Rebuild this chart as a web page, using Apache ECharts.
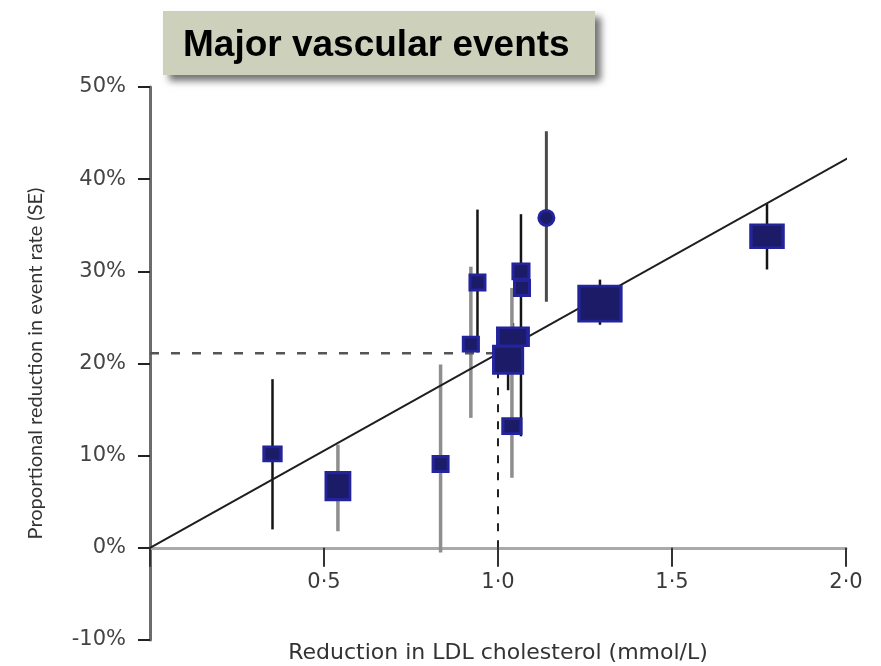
<!DOCTYPE html>
<html>
<head>
<meta charset="utf-8">
<title>Major vascular events</title>
<script src="https://cdn.jsdelivr.net/npm/echarts@6/dist/echarts.min.js"></script>
<style>
html,body{margin:0;padding:0;background:#fff;}
#main{width:881px;height:666px;}
</style>
</head>
<body>
<div id="main"></div>
<script>
// reduction in LDL cholesterol (mmol/L), one per trial
var ldlX    = [0.352, 0.540, 0.835, 0.922, 0.941, 1.029, 1.043, 1.040, 1.066, 1.069, 1.139, 1.293, 1.773];
// proportional reduction in event rate (%)
var effect  = [10.2, 6.7, 9.1, 22.1, 28.8, 20.4, 22.9, 13.2, 30.0, 28.2, 35.8, 26.5, 33.8];
// error bar ends (%), null = no bar visible
var ciLow   = [2.0, 1.8, -0.5, 14.1, 21.2, 17.1, 20.0, 7.6, 12.1, null, 26.7, 24.2, 30.2];
var ciHigh  = [18.3, 11.2, 19.9, 30.5, 36.7, 23.0, 24.4, 28.2, 36.2, null, 45.2, 29.1, 37.3];
// trial weight -> box width / height
var boxW    = [17, 24, 15, 15, 15, 29, 30, 18, 16, 15, 15, 42, 32];
var boxH    = [14, 27, 15, 14, 15, 27, 18, 15, 15, 15, 15, 35, 23];
var isDot   = [0, 0, 0, 0, 0, 0, 0, 0, 0, 0, 1, 0, 0];
// 0 black bar, 1 grey bar, 2 dark grey bar
var barKind = [0, 1, 1, 1, 0, 0, 0, 1, 0, 0, 2, 0, 0];
// fitted line and the 1 mmol/L reference
var fitX = [0, 2.02];
var fitY = [0, 42.6];
var refX = 1.0;
var refY = 21.1;

var chart = echarts.init(document.getElementById('main'));

var barData = [];
var boxData = [];
for (var i = 0; i < ldlX.length; i++) {
	if (ciLow[i] !== null) {
		barData.push([ldlX[i], ciLow[i], ciHigh[i], barKind[i]]);
	}
	boxData.push({
		value: [ldlX[i], effect[i]],
		symbol: isDot[i] ? 'circle' : 'rect',
		symbolSize: [boxW[i], boxH[i]]
	});
}
var barColor = ['#151515', '#8e8e8e', '#4a4a4a'];
var barWidth = [2.5, 3.5, 3];

var option = {
	animation: false,
	grid: { left: 150, right: 35, top: 87, bottom: 26, outerBoundsMode: 'none' },
	xAxis: {
		type: 'value',
		min: 0,
		max: 2,
		interval: 0.5,
		name: 'Reduction in LDL cholesterol (mmol/L)',
		nameLocation: 'middle',
		nameGap: 2,
		nameTextStyle: { fontFamily: 'DejaVu Sans', fontSize: 22, color: '#333' },
		axisLine: { onZero: true, lineStyle: { color: '#a9a9a9', width: 3 } },
		axisTick: { length: 19, lineStyle: { color: '#333', width: 2 } },
		axisLabel: {
			margin: -68,
			fontFamily: 'DejaVu Sans',
			fontSize: 21,
			color: '#3a3a3a',
			formatter: function (v) {
				if (v === 0) return '';
				return v.toFixed(1).replace('.', '\u00b7');
			}
		},
		splitLine: { show: false }
	},
	yAxis: {
		type: 'value',
		min: -10,
		max: 50,
		interval: 10,
		name: 'Proportional reduction in event rate (SE)',
		nameLocation: 'middle',
		nameRotate: 90,
		nameGap: 104,
		nameTextStyle: { fontFamily: 'Lato', fontSize: 20, color: '#333' },
		axisLine: { show: true, lineStyle: { color: '#6c6c6c', width: 3 } },
		axisTick: { show: true, length: 12, lineStyle: { color: '#222', width: 2 } },
		axisLabel: {
			margin: 24,
			fontFamily: 'DejaVu Sans',
			fontSize: 21,
			color: '#444',
			formatter: '{value}%'
		},
		splitLine: { show: false }
	},
	graphic: [
		{
			type: 'rect',
			left: 163,
			top: 11,
			shape: { width: 432, height: 64 },
			style: {
				fill: '#cdd1bb',
				shadowBlur: 7,
				shadowOffsetX: 6,
				shadowOffsetY: 6,
				shadowColor: 'rgba(0,0,0,0.55)'
			},
			z: 10
		},
		{
			type: 'text',
			left: 183,
			top: 27,
			style: {
				text: 'Major vascular events',
				fontFamily: 'Liberation Sans',
				fontWeight: 'bold',
				fontSize: 37,
				fill: '#000'
			},
			z: 11
		}
	],
	series: [
		{
			// error bars
			type: 'custom',
			z: 2,
			data: barData,
			encode: { x: 0, y: [1, 2] },
			renderItem: function (params, api) {
				var lo = api.coord([api.value(0), api.value(1)]);
				var hi = api.coord([api.value(0), api.value(2)]);
				var k = api.value(3);
				return {
					type: 'line',
					shape: { x1: lo[0], y1: lo[1], x2: hi[0], y2: hi[1] },
					style: { stroke: barColor[k], lineWidth: barWidth[k] }
				};
			}
		},
		{
			// fitted line
			type: 'line',
			z: 3,
			clip: false,
			showSymbol: false,
			data: [[fitX[0], fitY[0]], [fitX[1], fitY[1]]],
			lineStyle: { color: '#1e1e1e', width: 2 }
		},
		{
			type: 'line',
			z: 3,
			showSymbol: false,
			data: [[0, refY], [refX, refY]],
			lineStyle: { color: '#555', width: 2.5, type: [9, 12] }
		},
		{
			type: 'line',
			z: 3,
			showSymbol: false,
			data: [[refX, refY], [refX, 0]],
			lineStyle: { color: '#222', width: 2, type: [8, 9] }
		},
		{
			// trial boxes
			type: 'scatter',
			z: 4,
			data: boxData,
			itemStyle: {
				color: '#1b1b68',
				borderColor: '#23239b',
				borderWidth: 3,
				opacity: 1
			}
		}
	]
};
chart.setOption(option);
</script>
</body>
</html>
